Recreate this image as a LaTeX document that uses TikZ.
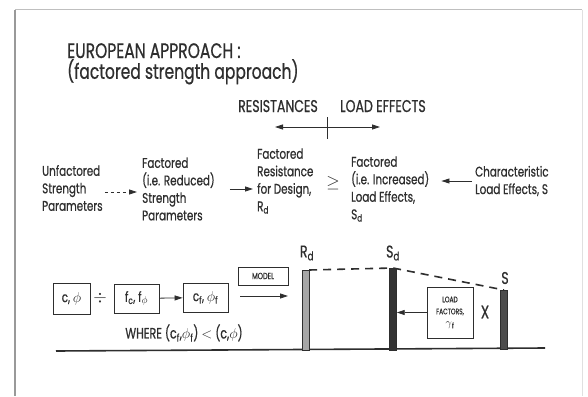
\documentclass[tikz,border=0pt]{standalone}
\usepackage{fontspec}
\setmainfont{Poppins}[FakeStretch=0.74,FakeBold=0.6]
\usetikzlibrary{arrows.meta}
\definecolor{ink}{HTML}{2E2E2E}
\tikzset{
 txt/.style={font=\fontsize{14}{17.5}\selectfont,align=left,text=ink,inner sep=0pt},
 arr/.style={draw=ink,thick,-{Triangle[length=8pt,width=5pt]}},
 boxed/.style={draw=ink,thick,inner sep=0pt,text=ink,font=\fontsize{14}{16}\selectfont},
 barnode/.style={draw=ink,inner sep=0pt,minimum width=7pt},
}
\begin{document}
\begin{tikzpicture}[x=1pt,y=-1pt]
 \useasboundingbox (0,0) rectangle (588,396);
 \fill[white] (0,0) rectangle (588,396);
 \draw[black!25,line width=1pt] (582,10)--(15,10);
 \draw[black!40,line width=2pt] (15,10)--(15,396);
 \draw[black!12,line width=1pt] (582,10)--(582,396);
 \node[txt,font=\fontsize{21}{19.5}\selectfont,anchor=north west] (ttl) at (67,43) {EUROPEAN APPROACH :\\(factored strength approach)};
 \node[txt,font=\fontsize{17}{20}\selectfont,anchor=base east] (res) at (318,112) {RESISTANCES};
 \node[txt,font=\fontsize{17}{20}\selectfont,anchor=base west] (eff) at (340,112) {LOAD EFFECTS};
 \coordinate (mid) at (327,127);
 \coordinate (lt) at (275,127);
 \coordinate (rt) at (380,127);
 \draw[ink,thick] (327,117)--(327,139);
 \draw[arr] (mid)--(lt);
 \draw[arr] (mid)--(rt);
 \node[txt,anchor=west] (unf) at (42,188) {Unfactored\\Strength\\Parameters};
 \node[txt,anchor=west] (fred) at (142,189) {Factored\\(i.e. Reduced)\\Strength\\Parameters};
 \node[txt,anchor=west] (fres) at (257,181) {Factored\\Resistance\\for Design,\\R\textsubscript{d}};
 \node[txt,font=\fontsize{16}{18}\selectfont] (geq) at (333,183) {$\geq$};
 \node[txt,anchor=west] (finc) at (351,189) {Factored\\(i.e. Increased)\\Load Effects,\\S\textsubscript{d}};
 \node[txt,anchor=west] (chr) at (475,181) {Characteristic\\Load Effects, S};
 \draw[arr,dashed] ([xshift=2pt]unf.east |- 0,192)--([xshift=-5pt]fred.west |- 0,192);
 \draw[arr] ([xshift=15pt]fred.east |- 0,189)--([xshift=-4pt]fres.west |- 0,189);
 \draw[arr] ([xshift=-3pt]chr.west)--([xshift=12pt]finc.east |- chr.west);
 \node[boxed,minimum width=37pt,minimum height=31pt] (cp) at (71.5,298.5) {c, $\phi$};
 \node[txt,font=\fontsize{16}{18}\selectfont] (dv) at (100,298) {$\div$};
 \node[boxed,minimum width=45pt,minimum height=29pt] (fcp) at (136.5,298.5) {f\textsubscript{c}, f$_\phi$};
 \node[boxed,minimum width=45pt,minimum height=29pt] (cfp) at (205.5,297.5) {c\textsubscript{f}, $\phi$\textsubscript{f}};
 \node[boxed,font=\fontsize{9}{11}\selectfont,minimum width=50pt,minimum height=18pt] (mdl) at (263,276) {MODEL};
 \coordinate (m1) at (240,296);
 \coordinate (m2) at (288,296);
 \draw[arr] (fcp)--(cfp);
 \draw[arr] (m1)--(m2);
 \node[txt,font=\fontsize{15}{18}\selectfont] (whr) at (184,333) {WHERE (c\textsubscript{f},$\phi$\textsubscript{f}) $<$ (c,$\phi$)};
 \coordinate (gl) at (56,351);
 \coordinate (gr) at (545,348);
 \draw[ink,line width=1.6pt] (gl)--(gr);
 \node[barnode,fill=black!35,minimum height=80pt,anchor=north] (rd) at (305.5,270) {};
 \node[barnode,fill=black!80,minimum height=82pt,anchor=north] (sd) at (393,268) {};
 \node[barnode,fill=black!70,minimum height=59pt,anchor=north] (s) at (504,290) {};
 \node[txt,font=\fontsize{17}{20}\selectfont] (rdl) at (307,253) {R\textsubscript{d}};
 \node[txt,font=\fontsize{17}{20}\selectfont] (sdl) at (393,253) {S\textsubscript{d}};
 \node[txt,font=\fontsize{17}{20}\selectfont] (sl) at (505,278) {S};
 \draw[ink,line width=1.6pt,dash pattern=on 8pt off 6pt] (rd.north east)--(sd.north)--(s.north);
 \node[boxed,font=\fontsize{8}{12}\selectfont,align=center,minimum width=46pt,minimum height=51pt] (lf) at (450,312.5) {LOAD\\FACTORS,\\{\fontsize{11}{12}\selectfont$\gamma$\textsubscript{f}}};
 \node[txt,font=\fontsize{18}{20}\selectfont] (xx) at (485,312) {X};
 \draw[arr] (lf.west)--(lf.west -| sd.east);
\end{tikzpicture}
\end{document}
